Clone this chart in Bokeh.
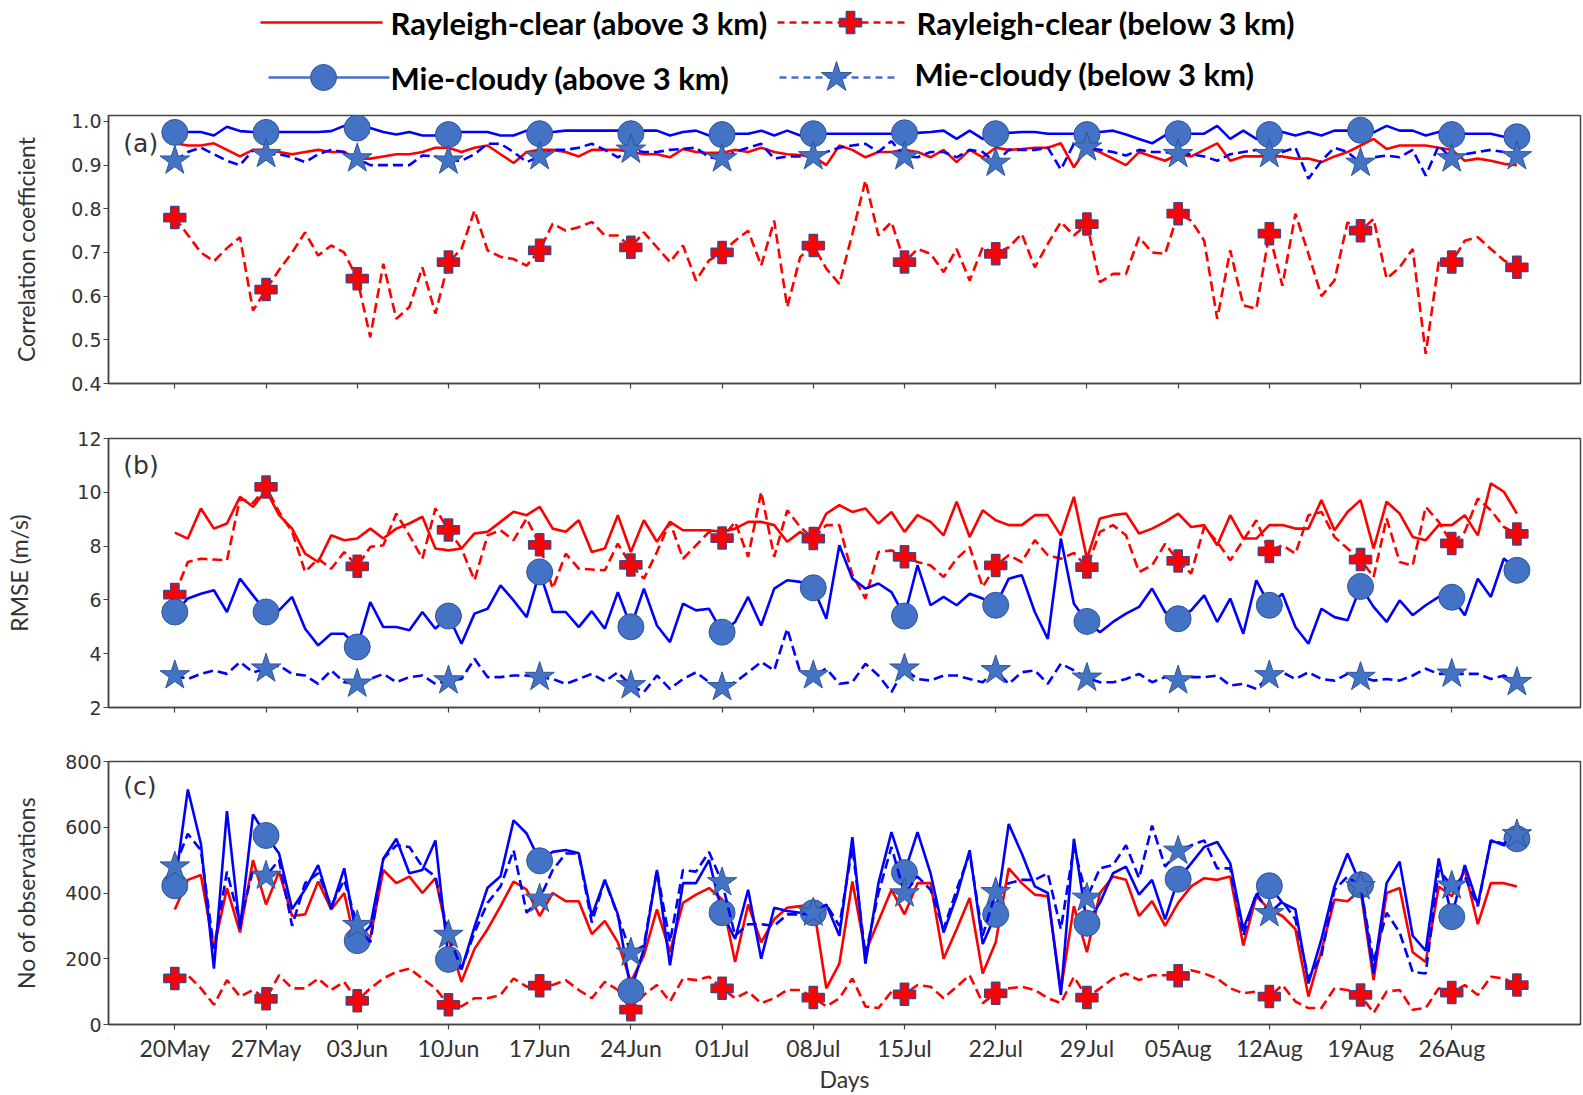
from bokeh.plotting import figure
from bokeh.models import Range1d, FixedTicker, Label, CustomJSTickFormatter
from bokeh.layouts import column
from bokeh.embed import file_html
from bokeh.resources import INLINE

# ---------------- data ----------------
days = list(range(104))  # 20 May .. 31 Aug
tick_days = [0, 7, 14, 21, 28, 35, 42, 49, 56, 63, 70, 77, 84, 91, 98]
tick_labels = ["20May", "27May", "03Jun", "10Jun", "17Jun", "24Jun", "01Jul", "08Jul",
               "15Jul", "22Jul", "29Jul", "05Aug", "12Aug", "19Aug", "26Aug"]
marker_days = [0, 7, 14, 21, 28, 35, 42, 49, 56, 63, 70, 77, 84, 91, 98, 103]

# (a) correlation coefficient
ray_above_cc = [0.95, 0.945, 0.945, 0.95, 0.935, 0.92, 0.935, 0.935, 0.93, 0.925,
                0.93, 0.935, 0.93, 0.93, 0.915, 0.915, 0.92, 0.925, 0.925, 0.93,
                0.94, 0.94, 0.93, 0.94, 0.945, 0.925, 0.905, 0.93, 0.935, 0.935,
                0.93, 0.92, 0.935, 0.935, 0.935, 0.93, 0.925, 0.925, 0.918, 0.937,
                0.93, 0.928, 0.928, 0.935, 0.93, 0.94, 0.93, 0.925, 0.923, 0.92,
                0.90, 0.945, 0.935, 0.918, 0.93, 0.93, 0.935, 0.93, 0.918, 0.935,
                0.907, 0.935, 0.918, 0.94, 0.935, 0.937, 0.94, 0.94, 0.95, 0.895,
                0.94, 0.93, 0.915, 0.90, 0.93, 0.92, 0.91, 0.925, 0.92, 0.935,
                0.95, 0.91, 0.92, 0.92, 0.92, 0.92, 0.915, 0.915, 0.907, 0.92,
                0.93, 0.945, 0.96, 0.937, 0.945, 0.945, 0.945, 0.94, 0.935, 0.91,
                0.915, 0.91, 0.903, 0.90]
ray_below_cc = [0.78, 0.74, 0.70, 0.68, 0.71, 0.735, 0.567, 0.615, 0.66, 0.70,
                0.746, 0.693, 0.716, 0.70, 0.64, 0.506, 0.674, 0.548, 0.575, 0.666,
                0.56, 0.678, 0.708, 0.796, 0.705, 0.69, 0.685, 0.67, 0.705, 0.766,
                0.75, 0.758, 0.77, 0.739, 0.739, 0.712, 0.746, 0.712, 0.678, 0.716,
                0.636, 0.682, 0.70, 0.727, 0.75, 0.67, 0.773, 0.575, 0.69, 0.716,
                0.663, 0.628, 0.743, 0.865, 0.739, 0.77, 0.678, 0.708, 0.697, 0.655,
                0.708, 0.636, 0.712, 0.697, 0.712, 0.743, 0.666, 0.72, 0.77, 0.739,
                0.765, 0.632, 0.651, 0.651, 0.735, 0.70, 0.697, 0.789, 0.773, 0.727,
                0.548, 0.705, 0.579, 0.571, 0.743, 0.624, 0.789, 0.697, 0.60, 0.636,
                0.769, 0.75, 0.777, 0.64, 0.666, 0.708, 0.468, 0.678, 0.678, 0.727,
                0.735, 0.708, 0.682, 0.666]
mie_above_cc = [0.975, 0.976, 0.976, 0.968, 0.988, 0.978, 0.976, 0.975, 0.976, 0.976,
                0.976, 0.976, 0.978, 0.99, 0.985, 0.985, 0.976, 0.97, 0.976, 0.968,
                0.968, 0.97, 0.976, 0.976, 0.976, 0.968, 0.968, 0.979, 0.972, 0.976,
                0.979, 0.979, 0.979, 0.979, 0.979, 0.972, 0.979, 0.979, 0.968, 0.976,
                0.979, 0.968, 0.97, 0.972, 0.972, 0.979, 0.968, 0.979, 0.968, 0.972,
                0.972, 0.972, 0.972, 0.972, 0.972, 0.972, 0.974, 0.974, 0.976, 0.979,
                0.96, 0.979, 0.96, 0.972, 0.974, 0.976, 0.976, 0.972, 0.972, 0.972,
                0.97, 0.976, 0.979, 0.97, 0.96, 0.95, 0.968, 0.972, 0.972, 0.972,
                0.99, 0.96, 0.979, 0.96, 0.97, 0.976, 0.968, 0.976, 0.968, 0.979,
                0.979, 0.98, 0.975, 0.99, 0.979, 0.979, 0.968, 0.976, 0.97, 0.972,
                0.972, 0.972, 0.965, 0.965]
mie_below_cc = [0.91, 0.93, 0.94, 0.925, 0.91, 0.90, 0.934, 0.925, 0.925, 0.918,
                0.907, 0.925, 0.935, 0.93, 0.915, 0.90, 0.90, 0.90, 0.90, 0.922,
                0.92, 0.91, 0.91, 0.925, 0.949, 0.949, 0.93, 0.907, 0.92, 0.935,
                0.935, 0.94, 0.949, 0.935, 0.918, 0.935, 0.93, 0.93, 0.935, 0.937,
                0.94, 0.918, 0.915, 0.93, 0.94, 0.949, 0.915, 0.92, 0.92, 0.92,
                0.93, 0.94, 0.945, 0.949, 0.93, 0.955, 0.92, 0.918, 0.93, 0.93,
                0.918, 0.935, 0.93, 0.905, 0.935, 0.935, 0.935, 0.94, 0.89, 0.949,
                0.94, 0.935, 0.93, 0.922, 0.935, 0.93, 0.93, 0.925, 0.925, 0.92,
                0.91, 0.925, 0.93, 0.935, 0.925, 0.93, 0.94, 0.869, 0.91, 0.94,
                0.93, 0.905, 0.918, 0.922, 0.918, 0.935, 0.876, 0.945, 0.915, 0.925,
                0.93, 0.935, 0.93, 0.92]

# (b) RMSE (m/s)
ray_above_rmse = [8.5, 8.28, 9.4, 8.65, 8.84, 9.83, 9.46, 10.08, 9.15, 8.65,
                  7.72, 7.41, 8.4, 8.22, 8.28, 8.65, 8.28, 8.65, 8.84, 9.09,
                  7.91, 7.84, 7.91, 8.47, 8.53, 8.9, 9.28, 9.15, 9.46, 8.65,
                  8.53, 8.96, 7.78, 7.91, 9.15, 7.78, 8.96, 8.16, 8.9, 8.59,
                  8.59, 8.59, 8.53, 8.65, 8.9, 8.9, 8.78, 8.16, 8.53, 8.22,
                  9.21, 9.52, 9.27, 9.4, 8.84, 9.27, 8.53, 9.15, 8.9, 8.4,
                  9.65, 8.34, 9.33, 8.96, 8.78, 8.78, 9.15, 9.15, 8.4, 9.83,
                  7.53, 9.03, 9.15, 9.21, 8.47, 8.65, 8.9, 9.21, 8.71, 8.78,
                  8.03, 9.15, 8.28, 8.28, 8.78, 8.78, 8.65, 8.65, 9.71, 8.59,
                  9.27, 9.71, 7.91, 9.65, 9.21, 8.34, 8.22, 8.78, 8.78, 9.15,
                  8.4, 10.33, 10.02, 9.21]
ray_below_rmse = [6.2, 7.41, 7.53, 7.5, 7.47, 9.77, 9.6, 10.2, 9.27, 8.53,
                  7.04, 7.53, 7.16, 7.78, 7.25, 7.97, 8.03, 9.21, 8.4, 7.53,
                  9.4, 8.6, 7.91, 6.73, 8.4, 8.59, 8.22, 9.03, 8.05, 6.42,
                  7.72, 7.16, 7.13, 7.1, 8.09, 7.3, 6.79, 7.78, 8.9, 7.53,
                  8.03, 8.53, 8.3, 8.9, 7.6, 10.02, 7.6, 9.33, 8.71, 8.28,
                  8.78, 8.78, 6.92, 6.05, 7.78, 7.84, 7.6, 7.41, 7.28, 6.85,
                  7.53, 7.97, 6.48, 7.28, 7.66, 7.41, 8.22, 7.66, 7.53, 7.75,
                  7.22, 8.53, 8.78, 8.4, 7.04, 7.28, 8.09, 7.45, 6.98, 8.71,
                  8.16, 7.47, 8.22, 8.96, 7.8, 8.03, 7.72, 9.15, 9.27, 8.34,
                  7.91, 7.5, 6.85, 9.03, 7.41, 7.28, 9.46, 8.9, 8.1, 8.53,
                  9.77, 9.33, 8.71, 8.45]
mie_above_rmse = [5.55, 6.05, 6.23, 6.36, 5.55, 6.79, 6.17, 5.55, 5.61, 6.11,
                  4.93, 4.31, 4.74, 4.74, 4.25, 5.92, 4.99, 4.99, 4.87, 5.55,
                  4.93, 5.4, 4.37, 5.49, 5.67, 6.54, 5.98, 5.36, 7.04, 5.55,
                  5.55, 4.99, 5.58, 4.93, 6.29, 5.0, 6.42, 5.05, 4.43, 5.86,
                  5.61, 5.67, 4.8, 5.18, 6.11, 5.05, 6.42, 6.73, 6.67, 6.45,
                  5.3, 8.03, 6.79, 6.42, 6.61, 6.29, 5.4, 7.29, 5.8, 6.11,
                  5.8, 6.23, 6.05, 5.8, 6.79, 6.92, 5.55, 4.55, 8.28, 5.86,
                  5.2, 4.8, 5.18, 5.49, 5.74, 6.42, 5.55, 5.3, 5.61, 6.17,
                  5.18, 6.05, 4.74, 6.73, 5.8, 6.23, 4.99, 4.37, 5.67, 5.36,
                  5.24, 6.5, 5.74, 5.18, 5.98, 5.43, 5.8, 6.11, 6.1, 5.43,
                  6.79, 6.11, 7.54, 7.1]
mie_below_rmse = [3.19, 3.06, 3.25, 3.38, 3.25, 3.69, 3.31, 3.44, 3.56, 3.25,
                  3.19, 2.88, 3.38, 2.94, 2.88, 3.06, 3.25, 2.94, 3.13, 3.19,
                  2.88, 3.0, 3.06, 3.81, 3.13, 3.13, 3.19, 3.19, 3.13, 3.06,
                  2.88, 3.06, 3.25, 2.97, 3.31, 2.82, 2.57, 3.19, 2.69, 3.06,
                  3.31, 2.94, 2.75, 2.94, 3.31, 3.69, 3.38, 4.93, 3.31, 3.19,
                  3.44, 2.88, 2.94, 3.63, 3.19, 2.57, 3.44, 3.06, 3.0, 3.19,
                  3.19, 3.06, 2.94, 3.38, 2.88, 3.31, 3.38, 2.88, 3.63, 3.38,
                  3.1, 2.94, 2.94, 3.06, 3.25, 2.94, 3.13, 3.0, 3.13, 3.13,
                  3.19, 2.82, 2.88, 2.69, 3.19, 3.31, 3.06, 3.31, 3.06, 3.0,
                  3.25, 3.13, 3.0, 3.06, 3.0, 3.19, 3.44, 3.25, 3.25, 3.25,
                  3.25, 3.06, 3.19, 2.94]

# (c) number of observations
ray_above_n = [350, 440, 455, 230, 415, 280, 500, 365, 465, 330,
               335, 435, 350, 400, 220, 265, 470, 430, 450, 400,
               445, 260, 130, 230, 290, 360, 435, 410, 330, 400,
               375, 375, 275, 315, 250, 130, 210, 350, 220, 370,
               395, 415, 380, 190, 365, 250, 320, 355, 360, 365,
               110, 185, 435, 220, 315, 410, 335, 430, 430, 200,
               290, 385, 155, 250, 475, 430, 395, 390, 105, 360,
               220, 400, 450, 440, 330, 375, 300, 370, 420, 445,
               440, 450, 240, 390, 350, 330, 290, 85, 225, 380,
               375, 410, 135, 400, 415, 220, 190, 420, 390, 470,
               305, 430, 430, 420]
ray_below_n = [140, 150, 110, 60, 135, 85, 105, 78, 150, 110,
               110, 140, 105, 130, 72, 110, 140, 160, 170, 140,
               110, 60, 55, 80, 80, 90, 140, 115, 118, 120,
               135, 105, 80, 130, 105, 45, 90, 120, 70, 140,
               135, 145, 110, 80, 100, 65, 80, 105, 105, 82,
               55, 80, 140, 55, 50, 100, 92, 120, 115, 80,
               115, 150, 65, 95, 110, 115, 105, 80, 65, 145,
               82, 110, 140, 155, 135, 150, 150, 148, 165, 155,
               140, 110, 95, 100, 85, 120, 70, 50, 50, 110,
               105, 90, 35, 100, 105, 45, 50, 110, 97, 120,
               90, 145, 140, 120]
mie_above_n = [422, 715, 550, 170, 649, 290, 639, 575, 520, 351,
               411, 485, 351, 475, 255, 300, 504, 565, 460, 470,
               560, 198, 168, 297, 416, 451, 621, 581, 498, 525,
               531, 521, 330, 440, 335, 102, 230, 470, 180, 430,
               430, 500, 340, 260, 410, 200, 355, 345, 340, 340,
               365, 270, 570, 185, 430, 585, 462, 585, 460, 280,
               390, 530, 245, 335, 610, 520, 420, 400, 90, 565,
               308, 370, 460, 480, 395, 440, 320, 442, 490, 540,
               555, 490, 290, 395, 422, 370, 350, 125, 260, 420,
               520, 425, 155, 430, 495, 270, 225, 505, 328, 485,
               365, 560, 545, 565]
mie_below_n = [480, 580, 530, 230, 465, 310, 470, 452, 500, 300,
               430, 460, 360, 440, 302, 250, 504, 545, 540, 480,
               450, 272, 170, 280, 370, 420, 530, 340, 382, 470,
               520, 520, 310, 440, 330, 218, 240, 470, 250, 470,
               465, 525, 432, 270, 305, 305, 300, 335, 335, 340,
               365, 300, 540, 210, 400, 540, 398, 450, 410, 290,
               410, 520, 270, 402, 430, 440, 440, 460, 290, 540,
               385, 475, 485, 545, 445, 605, 480, 528, 545, 560,
               475, 475, 270, 400, 338, 375, 320, 140, 210, 410,
               450, 420, 190, 340, 280, 160, 155, 470, 422, 450,
               360, 560, 550, 578]

series_names = ["Rayleigh-clear (above 3 km)", "Rayleigh-clear (below 3 km)",
                "Mie-cloudy (above 3 km)", "Mie-cloudy (below 3 km)"]

# ---------------- style ----------------
RED = "#ff0000"
BLUE = "#0000ff"
MK_FILL = "#4472c4"
MK_LINE = "#2f5597"
PLUS_LINE = "#44448a"
TXT = "#333333"
HUM = "Lato, 'Open Sans', sans-serif"
TICKF = "'DejaVu Sans', sans-serif"
LW = 2.6
DASH = "10 5"
W = 1583
LEFT, RIGHT = 108, 3

xr = Range1d(-5.09, 107.88)


def panel(height, top, bottom, yr, yticks, ylabel, label_standoff, tag, tag_y,
          series, show_xlabels):
    p = figure(width=W, height=height, x_range=xr, y_range=Range1d(*yr),
               output_backend="svg", toolbar_location=None,
               min_border_left=LEFT, min_border_right=RIGHT,
               min_border_top=top, min_border_bottom=bottom)
    p.grid.visible = False
    p.outline_line_color = "#444444"
    p.outline_line_width = 1.5

    ra, rb, ma, mb = series
    p.line(days, ra, line_color=RED, line_width=LW)
    p.line(days, rb, line_color=RED, line_width=LW, line_dash=DASH)
    p.scatter(marker_days, [rb[d] for d in marker_days], marker="plus", size=22,
              fill_color=RED, line_color=PLUS_LINE, line_width=1.5)
    p.line(days, ma, line_color=BLUE, line_width=LW)
    p.scatter(marker_days, [ma[d] for d in marker_days], marker="circle", size=26,
              fill_color=MK_FILL, line_color=MK_LINE, line_width=1)
    p.line(days, mb, line_color=BLUE, line_width=LW, line_dash=DASH)
    p.scatter(marker_days, [mb[d] for d in marker_days], marker="star", size=31,
              fill_color=MK_FILL, line_color=MK_LINE, line_width=1)

    for ax in (p.xaxis[0], p.yaxis[0]):
        ax.axis_line_color = "#444444"
        ax.axis_line_width = 1.5
        ax.major_tick_line_color = "#444444"
        ax.major_tick_line_width = 1.2
        ax.major_tick_out = 5
        ax.major_tick_in = 0
        ax.minor_tick_line_color = None
    p.xaxis.ticker = FixedTicker(ticks=tick_days)
    if show_xlabels:
        p.xaxis.major_label_overrides = {d: l for d, l in zip(tick_days, tick_labels)}
        p.xaxis.major_label_text_font = HUM
        p.xaxis.major_label_text_font_size = "23px"
        p.xaxis.major_label_text_color = TXT
        p.xaxis.major_label_standoff = 4
        p.xaxis.axis_label = "Days"
        p.xaxis.axis_label_text_font = HUM
        p.xaxis.axis_label_text_font_size = "23px"
        p.xaxis.axis_label_text_font_style = "normal"
        p.xaxis.axis_label_text_color = TXT
        p.xaxis.axis_label_standoff = 0
    else:
        p.xaxis.major_label_overrides = {d: "" for d in tick_days}
        p.xaxis.major_label_text_font_size = "10px"
        p.xaxis.major_label_standoff = 0

    p.yaxis.ticker = FixedTicker(ticks=yticks)
    p.yaxis.major_label_text_font = TICKF
    p.yaxis.major_label_text_font_size = "19px"
    p.yaxis.major_label_text_color = TXT
    p.yaxis.major_label_standoff = 2
    p.yaxis.axis_label = ylabel
    p.yaxis.axis_label_text_font = HUM
    p.yaxis.axis_label_text_font_size = "23px"
    p.yaxis.axis_label_text_font_style = "normal"
    p.yaxis.axis_label_text_color = TXT
    p.yaxis.axis_label_standoff = label_standoff

    p.add_layout(Label(x=-3.95, y=tag_y, text=tag, text_font=TICKF,
                       text_font_size="25px", text_color=TXT,
                       text_baseline="middle", text_align="left"))
    return p


pa = panel(302, 7, 27, (0.4, 1.0137), [0.4, 0.5, 0.6, 0.7, 0.8, 0.9, 1.0],
           "Correlation coefficient", 28, "(a)", 0.95,
           (ray_above_cc, ray_below_cc, mie_above_cc, mie_below_cc), False)
pa.yaxis.formatter = CustomJSTickFormatter(code="return tick.toFixed(1);")

pb = panel(324, 28, 27, (2, 12), [2, 4, 6, 8, 10, 12],
           "RMSE (m/s)", 41, "(b)", 10.98,
           (ray_above_rmse, ray_below_rmse, mie_above_rmse, mie_below_rmse), False)

pc = panel(361, 27, 65, (0, 800), [0, 200, 400, 600, 800],
           "No of observations", 22, "(c)", 724,
           (ray_above_n, ray_below_n, mie_above_n, mie_below_n), True)

# ---------------- legend strip on top ----------------
leg = figure(width=W, height=108, x_range=Range1d(LEFT, W - RIGHT), y_range=Range1d(108, 0),
             output_backend="svg", toolbar_location=None,
             min_border_left=LEFT, min_border_right=RIGHT, min_border_top=0, min_border_bottom=0,
             x_axis_location=None, y_axis_location=None)
leg.grid.visible = False
leg.outline_line_color = None

# row 1
leg.line([260, 382], [22, 22], line_color=RED, line_width=2.5)
leg.line([777, 909], [22, 22], line_color=RED, line_width=2.5, line_dash="7 5")
leg.scatter([850], [22], marker="plus", size=22, fill_color=RED,
            line_color=PLUS_LINE, line_width=1.5)
# row 2
leg.line([268, 389], [77, 77], line_color=MK_FILL, line_width=2.5)
leg.scatter([323], [77], marker="circle", size=26, fill_color=MK_FILL,
            line_color=MK_LINE, line_width=1)
leg.line([779, 899], [77, 77], line_color=MK_FILL, line_width=2.5, line_dash="7 5")
leg.scatter([836], [77], marker="star", size=32, fill_color=MK_FILL,
            line_color=MK_LINE, line_width=1)

leg_x = [390, 916, 390, 914]
leg_y = [22, 22, 77, 73]
for name, lx, ly in zip(series_names, leg_x, leg_y):
    leg.add_layout(Label(x=lx, y=ly, text=name, text_font=HUM,
                         text_font_size="31px", text_font_style="bold",
                         text_color="black", text_baseline="middle",
                         text_align="left"))

layout = column(leg, pa, pb, pc, spacing=0)
open("out.html", "w").write(file_html(layout, INLINE))
